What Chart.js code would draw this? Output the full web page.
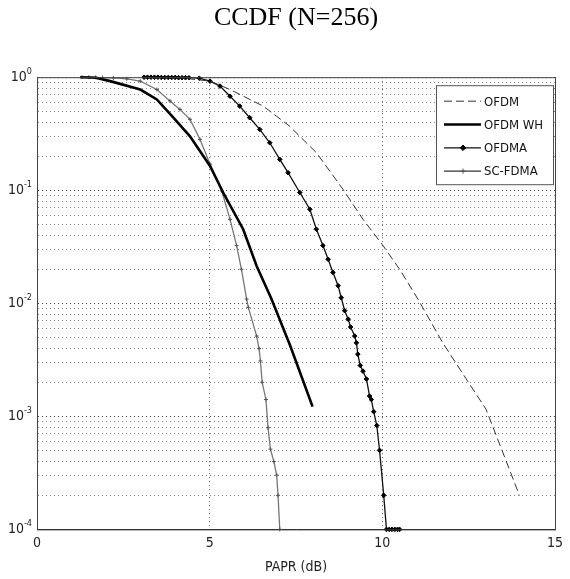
<!DOCTYPE html>
<html>
<head>
<meta charset="utf-8">
<script src="https://cdn.jsdelivr.net/npm/chart.js@4"></script>
<style>
  body { margin: 0; background: #fff; }
  #wrap { width: 570px; height: 579px; }
</style>
</head>
<body>
<div id="wrap"><canvas id="ccdf"></canvas></div>
<script>
const NARROW = "'Liberation Sans Narrow', 'DejaVu Sans Condensed', 'Liberation Sans', sans-serif";

// values (x = PAPR in dB, y = CCDF)
const ofdmX = [4.0, 5.01, 5.59, 6.55, 7.3, 8.09, 8.86, 9.44, 10.02, 10.5, 11.03, 11.75, 12.43, 13.0, 13.49, 13.97];
const ofdmY = [1, 0.923, 0.778, 0.555, 0.372, 0.215, 0.102, 0.0553, 0.0324, 0.02, 0.0109, 0.00447, 0.00214, 0.00116, 0.000479, 0.0002];

const ofdmWhX = [1.25, 1.7, 2.12, 2.99, 3.47, 3.95, 4.43, 5.01, 5.39, 5.97, 6.36, 6.79, 7.33, 7.98];
const ofdmWhY = [1, 0.99, 0.923, 0.778, 0.635, 0.438, 0.30, 0.164, 0.0955, 0.0452, 0.0214, 0.0109, 0.00423, 0.00122];

const ofdmaX = [3.1, 3.2, 3.3, 3.4, 3.5, 3.6, 3.7, 3.8, 3.9, 4.0, 4.1, 4.2, 4.3, 4.4, 4.7, 5.01, 5.30, 5.59, 5.87, 6.16, 6.45, 6.74, 7.03, 7.27, 7.61, 7.90, 8.09, 8.28, 8.43, 8.57, 8.72, 8.81, 8.91, 9.01, 9.08, 9.20, 9.25, 9.29, 9.36, 9.44, 9.54, 9.63, 9.68, 9.75, 9.84, 9.92, 10.04, 10.12, 10.2, 10.28, 10.36, 10.44, 10.5];
const ofdmaY = [1, 1, 1, 1, 1, 0.995, 0.995, 0.995, 0.995, 0.995, 0.99, 0.99, 0.99, 0.99, 0.98, 0.923, 0.834, 0.679, 0.555, 0.438, 0.345, 0.263, 0.1875, 0.143, 0.0955, 0.0679, 0.0452, 0.0324, 0.0245, 0.01875, 0.0143, 0.0112, 0.0086, 0.00724, 0.00617, 0.00513, 0.00447, 0.00355, 0.00282, 0.00251, 0.00214, 0.00151, 0.00141, 0.0011, 0.00083, 0.0005, 0.0002, 0.0001, 0.0001, 0.0001, 0.0001, 0.0001, 0.0001];

const scfdmaX = [1.3, 1.5, 1.7, 1.9, 2.21, 2.6, 2.99, 3.47, 3.85, 4.14, 4.43, 4.72, 5.01, 5.35, 5.59, 5.78, 5.92, 6.07, 6.12, 6.36, 6.43, 6.47, 6.52, 6.63, 6.69, 6.76, 6.86, 6.94, 6.98, 7.03];
const scfdmaY = [1, 1, 0.997, 0.993, 0.986, 0.968, 0.923, 0.778, 0.617, 0.519, 0.424, 0.282, 0.170, 0.0984, 0.0553, 0.0324, 0.02, 0.0109, 0.0092, 0.00513, 0.00398, 0.00309, 0.002, 0.00141, 0.000794, 0.000513, 0.000398, 0.000302, 0.0002, 0.0001];

const xTicks = [0, 5, 10, 15];
const decades = [0, -1, -2, -3, -4];

function pts(xs, ys) {
    return xs.map((x, i) => ({ x: x, y: ys[i] }));
}

// 1..9 x 10^k gridlines like matlab
const yGridTicks = [];
for (let k = -4; k < 0; k++) {
    for (let m = 1; m < 10; m++) yGridTicks.push({ value: m * Math.pow(10, k), major: m === 1 });
}
yGridTicks.push({ value: 1, major: true });

// box round the axes, then the legend
const boxAndLegend = {
    id: 'boxAndLegend',
    afterDatasetsDraw(chart) {
        const { ctx, chartArea: a } = chart;
        ctx.save();
        ctx.strokeStyle = '#444';
        ctx.lineWidth = 1;
        ctx.strokeRect(a.left + 0.5, a.top + 0.5, a.right - a.left, a.bottom - a.top);

        const w = 117, h = 99;
        const lx = a.right - w - 2, ly = a.top + 8;
        ctx.fillStyle = '#fff';
        ctx.fillRect(lx, ly, w, h);
        ctx.strokeStyle = '#555';
        ctx.strokeRect(lx + 0.5, ly + 0.5, w, h);

        ctx.font = '13px ' + NARROW;
        ctx.textBaseline = 'middle';
        ctx.textAlign = 'left';
        chart.data.datasets.forEach((ds, i) => {
            const y = ly + 16 + i * 23.3;
            ctx.save();
            ctx.strokeStyle = ds.legendLine || ds.borderColor;
            ctx.lineWidth = ds.borderWidth;
            ctx.setLineDash(ds.borderDash || []);
            ctx.beginPath();
            ctx.moveTo(lx + 8, y);
            ctx.lineTo(lx + 45, y);
            ctx.stroke();
            ctx.restore();
            if (ds.pointRadius > 0) {
                ctx.fillStyle = ds.pointBackgroundColor;
                ctx.strokeStyle = ds.pointBorderColor;
                ctx.lineWidth = 1;
                Chart.helpers.drawPoint(ctx, {
                    pointStyle: ds.pointStyle, radius: ds.pointRadius + 0.5, borderWidth: 1
                }, lx + 27, y);
            }
            ctx.fillStyle = '#111';
            ctx.fillText(ds.label, lx + 48, y + 1);
        });
        ctx.restore();
    }
};

// y tick labels 10^k with a raised exponent
const powerLabels = {
    id: 'powerLabels',
    afterDraw(chart) {
        const { ctx, chartArea: a } = chart;
        const ys = chart.scales.y;
        const right = a.left - 5;
        ctx.save();
        ctx.fillStyle = '#222';
        ctx.textBaseline = 'middle';
        ctx.textAlign = 'right';
        decades.forEach(k => {
            const y = ys.getPixelForValue(Math.pow(10, k));
            const exp = String(k);
            ctx.font = '9px ' + NARROW;
            const ew = ctx.measureText(exp).width;
            ctx.fillText(exp, right, y - 6);
            ctx.font = '14px ' + NARROW;
            ctx.fillText('10', right - ew, y);
        });
        ctx.restore();
    }
};

const datasets = [
    {
        label: 'OFDM',
        data: pts(ofdmX, ofdmY),
        borderColor: '#333',
        borderWidth: 1,
        borderDash: [8, 4],
        pointRadius: 0
    },
    {
        label: 'OFDM WH',
        data: pts(ofdmWhX, ofdmWhY),
        borderColor: '#000',
        borderWidth: 2.6,
        pointRadius: 0
    },
    {
        label: 'OFDMA',
        data: pts(ofdmaX, ofdmaY),
        borderColor: '#111',
        borderWidth: 1.3,
        pointStyle: 'rectRot',
        pointRadius: 2.3,
        pointBackgroundColor: '#000',
        pointBorderColor: '#000'
    },
    {
        label: 'SC-FDMA',
        data: pts(scfdmaX, scfdmaY),
        borderColor: '#777',
        legendLine: '#333',
        borderWidth: 1.3,
        pointStyle: 'cross',
        pointRadius: 2,
        pointBackgroundColor: '#777',
        pointBorderColor: '#555'
    }
];

new Chart(document.getElementById('ccdf'), {
    type: 'line',
    data: { datasets: datasets.map(d => Object.assign({ tension: 0, clip: false, pointBorderWidth: 1, fill: false }, d)) },
    options: {
        responsive: true,
        maintainAspectRatio: false,
        animation: false,
        layout: { padding: { left: 37, right: 15, top: 0, bottom: 0 } },
        plugins: {
            legend: { display: false },
            tooltip: { enabled: false },
            title: {
                display: true,
                text: 'CCDF (N=256)',
                color: '#000',
                font: { family: "'Liberation Serif', 'Times New Roman', serif", size: 26, weight: 'normal' },
                padding: { top: 3, bottom: 43 }
            }
        },
        scales: {
            x: {
                type: 'linear',
                min: 0,
                max: 15,
                afterBuildTicks: (s) => { s.ticks = xTicks.map(v => ({ value: v })); },
                ticks: {
                    color: '#222',
                    padding: 6,
                    font: { family: NARROW, size: 14 },
                    callback: (v) => String(v)
                },
                grid: { color: '#555', lineWidth: 1, drawTicks: false },
                border: { display: true, color: '#222', width: 1, dash: [1, 3] },
                title: {
                    display: true,
                    text: 'PAPR (dB)',
                    color: '#222',
                    font: { family: NARROW, size: 14 },
                    padding: { top: 1, bottom: 3 }
                }
            },
            y: {
                type: 'logarithmic',
                min: 0.0001,
                max: 1,
                afterBuildTicks: (s) => { s.ticks = yGridTicks.map(t => ({ value: t.value, major: t.major })); },
                ticks: { display: false },
                grid: {
                    drawTicks: false,
                    lineWidth: 1,
                    color: (c) => (c.tick && c.tick.major ? '#444' : '#888')
                },
                border: { display: true, color: '#444', width: 1, dash: [1, 3] }
            }
        }
    },
    plugins: [boxAndLegend, powerLabels]
});
</script>
</body>
</html>
